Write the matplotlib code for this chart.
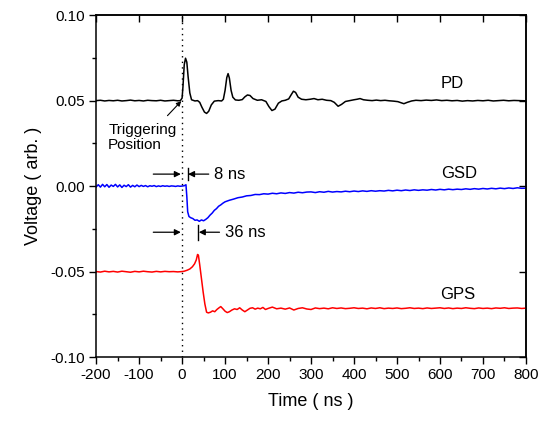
import matplotlib
matplotlib.use('Agg')
import matplotlib.pyplot as plt
from matplotlib.ticker import MultipleLocator, FormatStrFormatter

plt.rcParams['font.family'] = ['Liberation Sans', 'DejaVu Sans']
plt.rcParams['axes.unicode_minus'] = False

# PD trace (photodiode)
pd_t = [-200, -190, -180, -170, -160, -150, -140, -130, -120, -110,
        -100, -90, -80, -70, -60, -50, -40, -30, -20, -10,
        -4, 0, 2, 5, 8, 11, 14, 18, 22, 30,
        36, 41, 46, 52, 57, 62, 68, 75, 84, 92,
        96, 100, 104, 107, 110, 114, 118, 124, 132, 140,
        146, 152, 158, 165, 175, 185, 195, 202, 209, 216,
        224, 232, 240, 248, 254, 259, 264, 270, 278, 288,
        298, 307, 316, 326, 336, 346, 354, 363, 371, 380,
        390, 400, 407, 414, 422, 432, 442, 452, 462, 472,
        482, 492, 502, 510, 516, 524, 534, 544, 556, 568,
        580, 592, 604, 616, 628, 640, 652, 664, 676, 688,
        700, 712, 724, 736, 748, 760, 772, 784, 800]
pd_v = [0.0500, 0.0502, 0.0498, 0.0501, 0.0499, 0.0502, 0.0498, 0.0500, 0.0503, 0.0499,
        0.0501, 0.0498, 0.0502, 0.0500, 0.0499, 0.0502, 0.0498, 0.0500, 0.0502, 0.0499,
        0.0500, 0.0515, 0.0580, 0.0710, 0.0748, 0.0725, 0.0640, 0.0545, 0.0505, 0.0498,
        0.0500, 0.0490, 0.0462, 0.0433, 0.0425, 0.0438, 0.0475, 0.0497, 0.0500, 0.0498,
        0.0508, 0.0560, 0.0635, 0.0658, 0.0632, 0.0560, 0.0520, 0.0504, 0.0502, 0.0506,
        0.0522, 0.0533, 0.0530, 0.0512, 0.0502, 0.0505, 0.0495, 0.0465, 0.0442, 0.0450,
        0.0485, 0.0498, 0.0502, 0.0510, 0.0535, 0.0555, 0.0548, 0.0520, 0.0508, 0.0505,
        0.0508, 0.0512, 0.0505, 0.0508, 0.0502, 0.0500, 0.0490, 0.0467, 0.0478, 0.0495,
        0.0500, 0.0505, 0.0508, 0.0512, 0.0505, 0.0502, 0.0500, 0.0503, 0.0500, 0.0502,
        0.0499, 0.0497, 0.0494, 0.0487, 0.0482, 0.0490, 0.0498, 0.0502, 0.0500, 0.0503,
        0.0501, 0.0504, 0.0500, 0.0502, 0.0499, 0.0501, 0.0497, 0.0500, 0.0498, 0.0501,
        0.0499, 0.0502, 0.0498, 0.0500, 0.0502, 0.0499, 0.0501, 0.0500, 0.0499]

# GSD trace
gsd_t = [-200, -195, -190, -185, -180, -175, -170, -165, -160, -155,
         -150, -145, -140, -135, -130, -125, -120, -115, -110, -105,
         -100, -95, -90, -85, -80, -75, -70, -65, -60, -55,
         -50, -45, -40, -35, -30, -25, -20, -15, -10, -5,
         0, 5, 9, 11, 13, 16, 20, 25, 30, 35,
         40, 45, 50, 55, 60, 65, 70, 75, 80, 85,
         90, 95, 100, 110, 120, 130, 140, 150, 160, 170,
         180, 190, 200, 210, 220, 230, 240, 250, 260, 270,
         280, 290, 300, 310, 320, 330, 340, 350, 360, 370,
         380, 390, 400, 410, 420, 430, 440, 450, 460, 470,
         480, 490, 500, 510, 520, 530, 540, 550, 560, 570,
         580, 590, 600, 610, 620, 630, 640, 650, 660, 670,
         680, 690, 700, 710, 720, 730, 740, 750, 760, 770,
         780, 790, 800]
gsd_v = [-0.0005, 0.0008, -0.0006, 0.0010, -0.0004, 0.0009, -0.0007, 0.0006, -0.0002, 0.0010,
         -0.0005, 0.0007, -0.0008, 0.0005, -0.0003, 0.0008, -0.0006, 0.0004, -0.0004, 0.0006,
         -0.0003, 0.0004, -0.0002, 0.0003, -0.0004, 0.0002, -0.0001, 0.0003, -0.0003, 0.0001,
         -0.0002, 0.0002, -0.0001, 0.0001, -0.0002, 0.0001, 0.0000, -0.0002, 0.0001, -0.0001,
         0.0000, 0.0002, 0.0008, -0.0060, -0.0150, -0.0178, -0.0185, -0.0190, -0.0200, -0.0198,
         -0.0206, -0.0198, -0.0203, -0.0195, -0.0185, -0.0170, -0.0158, -0.0142, -0.0132, -0.0118,
         -0.0110, -0.0100, -0.0092, -0.0083, -0.0076, -0.0068, -0.0064, -0.0057, -0.0055, -0.0049,
         -0.0050, -0.0045, -0.0047, -0.0042, -0.0045, -0.0040, -0.0043, -0.0038, -0.0041, -0.0036,
         -0.0039, -0.0035, -0.0034, -0.0038, -0.0033, -0.0036, -0.0031, -0.0035, -0.0032, -0.0034,
         -0.0030, -0.0033, -0.0029, -0.0032, -0.0028, -0.0031, -0.0027, -0.0030, -0.0027, -0.0029,
         -0.0025, -0.0028, -0.0024, -0.0027, -0.0023, -0.0026, -0.0022, -0.0025, -0.0022, -0.0024,
         -0.0020, -0.0023, -0.0019, -0.0022, -0.0018, -0.0021, -0.0018, -0.0020, -0.0016, -0.0019,
         -0.0015, -0.0018, -0.0014, -0.0017, -0.0013, -0.0016, -0.0012, -0.0015, -0.0011, -0.0014,
         -0.0010, -0.0013, -0.0012]

# GPS trace
gps_t = [-200, -190, -180, -170, -160, -150, -140, -130, -120, -110,
         -100, -90, -80, -70, -60, -50, -40, -30, -20, -10,
         0, 5, 12, 18, 24, 29, 33, 36, 38, 41,
         45, 49, 53, 57, 61, 66, 71, 76, 81, 86,
         90, 95, 100, 105, 110, 116, 122, 128, 134, 140,
         146, 152, 158, 164, 170, 176, 182, 188, 194, 200,
         210, 220, 230, 240, 250, 260, 270, 280, 290, 300,
         310, 320, 330, 340, 350, 360, 370, 380, 390, 400,
         410, 420, 430, 440, 450, 460, 470, 480, 490, 500,
         510, 520, 530, 540, 550, 560, 570, 580, 590, 600,
         610, 620, 630, 640, 650, 660, 670, 680, 690, 700,
         710, 720, 730, 740, 750, 760, 770, 780, 790, 800]
gps_v = [-0.0500, -0.0503, -0.0498, -0.0502, -0.0499, -0.0503, -0.0498, -0.0501, -0.0504, -0.0499,
         -0.0502, -0.0498, -0.0501, -0.0503, -0.0499, -0.0502, -0.0499, -0.0501, -0.0500, -0.0502,
         -0.0500, -0.0498, -0.0492, -0.0485, -0.0472, -0.0455, -0.0432, -0.0400, -0.0405, -0.0460,
         -0.0540, -0.0620, -0.0690, -0.0738, -0.0742, -0.0738, -0.0730, -0.0735, -0.0722, -0.0712,
         -0.0705, -0.0718, -0.0732, -0.0740, -0.0735, -0.0725, -0.0718, -0.0722, -0.0712, -0.0725,
         -0.0735, -0.0725, -0.0715, -0.0712, -0.0720, -0.0714, -0.0718, -0.0710, -0.0722, -0.0716,
         -0.0708, -0.0718, -0.0714, -0.0720, -0.0713, -0.0725, -0.0716, -0.0712, -0.0719, -0.0722,
         -0.0713, -0.0717, -0.0714, -0.0718, -0.0712, -0.0716, -0.0713, -0.0717, -0.0715, -0.0712,
         -0.0716, -0.0714, -0.0718, -0.0713, -0.0716, -0.0712, -0.0717, -0.0714, -0.0716, -0.0713,
         -0.0717, -0.0715, -0.0712, -0.0716, -0.0714, -0.0717, -0.0713, -0.0716, -0.0714, -0.0712,
         -0.0716, -0.0713, -0.0717, -0.0714, -0.0716, -0.0712, -0.0715, -0.0717, -0.0713, -0.0716,
         -0.0714, -0.0717, -0.0713, -0.0715, -0.0712, -0.0716, -0.0714, -0.0713, -0.0716, -0.0714]

trace_names = ['PD', 'GSD', 'GPS']
trace_label_pos = [(628, 0.0602), (644, 0.0076), (642, -0.0632)]

fig = plt.figure(figsize=(5.4, 4.21), dpi=100)
ax = fig.add_axes([0.178, 0.152, 0.796, 0.812])

ax.plot(pd_t, pd_v, color='black', lw=1.1)
ax.plot(gsd_t, gsd_v, color='#0000ff', lw=1.1)
ax.plot(gps_t, gps_v, color='#ff0000', lw=1.1)

# trigger line
ax.axvline(0, color='black', lw=1.0, linestyle=(0, (1, 3)))

for name, (tx, ty) in zip(trace_names, trace_label_pos):
    ax.text(tx, ty, name, fontsize=12, ha='center', va='center')

ax.text(-172, 0.0284, 'Triggering\nPosition', fontsize=11, ha='left', va='center',
        linespacing=1.15)
ax.annotate('', xy=(-2, 0.0497), xytext=(-34, 0.0412),
            arrowprops=dict(arrowstyle='-|>', color='black', lw=0.8, mutation_scale=7,
                            shrinkA=0, shrinkB=0))

# delay markers
arrow_kw = dict(arrowstyle='-|>', color='black', lw=0.9, mutation_scale=9,
                shrinkA=0, shrinkB=0)
ax.annotate('', xy=(-3, 0.0070), xytext=(-67, 0.0070), arrowprops=arrow_kw)
ax.plot([13, 13], [0.0035, 0.0105], color='black', lw=1.0)
ax.annotate('', xy=(14, 0.0070), xytext=(62, 0.0070), arrowprops=arrow_kw)
ax.text(74, 0.0070, '8 ns', fontsize=12, ha='left', va='center')

ax.annotate('', xy=(-3, -0.0270), xytext=(-67, -0.0270), arrowprops=arrow_kw)
ax.plot([38, 38], [-0.0228, -0.0316], color='black', lw=1.0)
ax.annotate('', xy=(39, -0.0270), xytext=(87, -0.0270), arrowprops=arrow_kw)
ax.text(100, -0.0270, '36 ns', fontsize=12, ha='left', va='center')

ax.set_xlim(-200, 800)
ax.set_ylim(-0.10, 0.10)
ax.xaxis.set_major_locator(MultipleLocator(100))
ax.xaxis.set_minor_locator(MultipleLocator(50))
ax.yaxis.set_major_locator(MultipleLocator(0.05))
ax.yaxis.set_minor_locator(MultipleLocator(0.025))
ax.yaxis.set_major_formatter(FormatStrFormatter('%.2f'))
ax.tick_params(which='major', direction='out', length=5, width=1.0, labelsize=11, pad=3)
ax.tick_params(which='minor', direction='out', length=3, width=1.0)

top = ax.secondary_xaxis('top')
top.set_xticks(range(-200, 801, 100))
top.tick_params(direction='in', length=5, width=1.0, labeltop=False)
right = ax.secondary_yaxis('right')
right.set_yticks([-0.10, -0.05, 0.0, 0.05, 0.10])
right.tick_params(direction='in', length=5, width=1.0, labelright=False)

for sp in list(ax.spines.values()) + [top.spines['top'], right.spines['right']]:
    sp.set_linewidth(1.1)

ax.set_xlabel('Time ( ns )', fontsize=13, labelpad=8)
ax.set_ylabel('Voltage ( arb. )', fontsize=13, labelpad=6)

fig.savefig('out.png', dpi=100)
